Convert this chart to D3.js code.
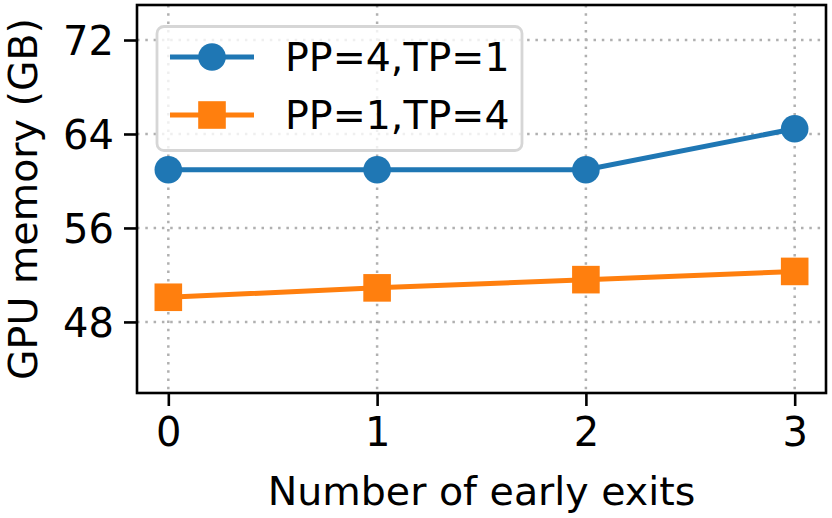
<!DOCTYPE html>
<html>
<head>
<meta charset="utf-8">
<script src="https://cdn.jsdelivr.net/npm/d3@7"></script>
<style>
  body { margin: 0; background: #fff; }
  svg { display: block; font-family: "DejaVu Sans", sans-serif; }
</style>
</head>
<body>
<div id="chart"></div>
<script>
  const exits = [0, 1, 2, 3];
  const ppSeries = [60.95, 60.95, 60.95, 64.45];
  const tpSeries = [50.1, 50.9, 51.6, 52.3];
  const yTicks = [48, 56, 64, 72];
  const seriesNames = ["PP=4,TP=1", "PP=1,TP=4"];

  const width = 832;
  const height = 518;
  const margin = { left: 137, right: 6, top: 5, bottom: 125 };

  const svg = d3.select("#chart").append("svg")
    .attr("width", width)
    .attr("height", height);

  const x = d3.scaleLinear().domain([-0.15, 3.15]).range([margin.left, width - margin.right]);
  const y = d3.scaleLinear().domain([41.95, 74.98]).range([height - margin.bottom, margin.top]);

  const grid = svg.append("g").attr("stroke", "#b0b0b0").attr("stroke-width", 2.5)
    .attr("stroke-dasharray", "2.5,5.8");
  grid.selectAll(".gx").data(exits).join("line")
    .attr("x1", (d) => x(d)).attr("x2", (d) => x(d))
    .attr("y1", margin.top).attr("y2", height - margin.bottom);
  grid.selectAll(".gy").data(yTicks).join("line")
    .attr("x1", margin.left).attr("x2", width - margin.right)
    .attr("y1", (d) => y(d)).attr("y2", (d) => y(d));

  const line = d3.line().x((d, i) => x(exits[i])).y((d) => y(d));

  svg.append("path").datum(tpSeries)
    .attr("d", line).attr("fill", "none")
    .attr("stroke", "#ff7f0e").attr("stroke-width", 5);
  svg.selectAll(".sq").data(tpSeries).join("rect")
    .attr("x", (d, i) => x(exits[i]) - 13.8).attr("y", (d) => y(d) - 13.8)
    .attr("width", 27.6).attr("height", 27.6).attr("fill", "#ff7f0e");

  svg.append("path").datum(ppSeries)
    .attr("d", line).attr("fill", "none")
    .attr("stroke", "#1f77b4").attr("stroke-width", 5);
  svg.selectAll(".dot").data(ppSeries).join("circle")
    .attr("cx", (d, i) => x(exits[i])).attr("cy", (d) => y(d))
    .attr("r", 13.8).attr("fill", "#1f77b4");

  // axes
  const xAxis = svg.append("g")
    .attr("transform", `translate(0,${height - margin.bottom})`)
    .call(d3.axisBottom(x).tickValues(exits).tickFormat(d3.format("d")).tickSize(13).tickPadding(10));
  const yAxis = svg.append("g")
    .attr("transform", `translate(${margin.left},0)`)
    .call(d3.axisLeft(y).tickValues(yTicks).tickSize(13).tickPadding(10));
  [xAxis, yAxis].forEach((axis) => {
    axis.select(".domain").remove();
    axis.selectAll(".tick line").attr("stroke", "#000").attr("stroke-width", 2.6);
    axis.selectAll(".tick text").attr("fill", "#000")
      .style("font-size", "40px").style("font-family", "DejaVu Sans");
  });
  yAxis.selectAll(".tick text").attr("dy", "0.36em");
  xAxis.selectAll(".tick text").attr("dy", "0.74em");

  svg.append("rect")
    .attr("x", margin.left).attr("y", margin.top)
    .attr("width", width - margin.left - margin.right)
    .attr("height", height - margin.top - margin.bottom)
    .attr("fill", "none").attr("stroke", "#000").attr("stroke-width", 2.6);

  svg.append("text")
    .attr("x", (margin.left + width - margin.right) / 2).attr("y", 505)
    .attr("text-anchor", "middle").style("font-size", "39.5px")
    .text("Number of early exits");
  svg.append("text")
    .attr("transform", `translate(37,${(margin.top + height - margin.bottom) / 2}) rotate(-90)`)
    .attr("text-anchor", "middle").style("font-size", "39.5px")
    .text("GPU memory (GB)");

  // legend
  const legend = svg.append("g");
  legend.append("rect")
    .attr("x", 157).attr("y", 26.5).attr("width", 365).attr("height", 124)
    .attr("rx", 7).attr("fill", "#fff").attr("fill-opacity", 0.8)
    .attr("stroke", "#d6d6d6").attr("stroke-width", 2.8);
  const rows = legend.selectAll(".row").data(seriesNames).join("g")
    .attr("transform", (d, i) => `translate(0,${57 + i * 58})`);
  rows.append("line").attr("x1", 170).attr("x2", 254)
    .attr("stroke", (d, i) => i === 0 ? "#1f77b4" : "#ff7f0e").attr("stroke-width", 5);
  rows.filter((d, i) => i === 0).append("circle")
    .attr("cx", 212).attr("r", 13.8).attr("fill", "#1f77b4");
  rows.filter((d, i) => i === 1).append("rect")
    .attr("x", 198.2).attr("y", -13.8).attr("width", 27.6).attr("height", 27.6).attr("fill", "#ff7f0e");
  rows.append("text").attr("x", 285).attr("dy", "0.36em")
    .style("font-size", "39.5px").text((d) => d);
</script>
</body>
</html>
